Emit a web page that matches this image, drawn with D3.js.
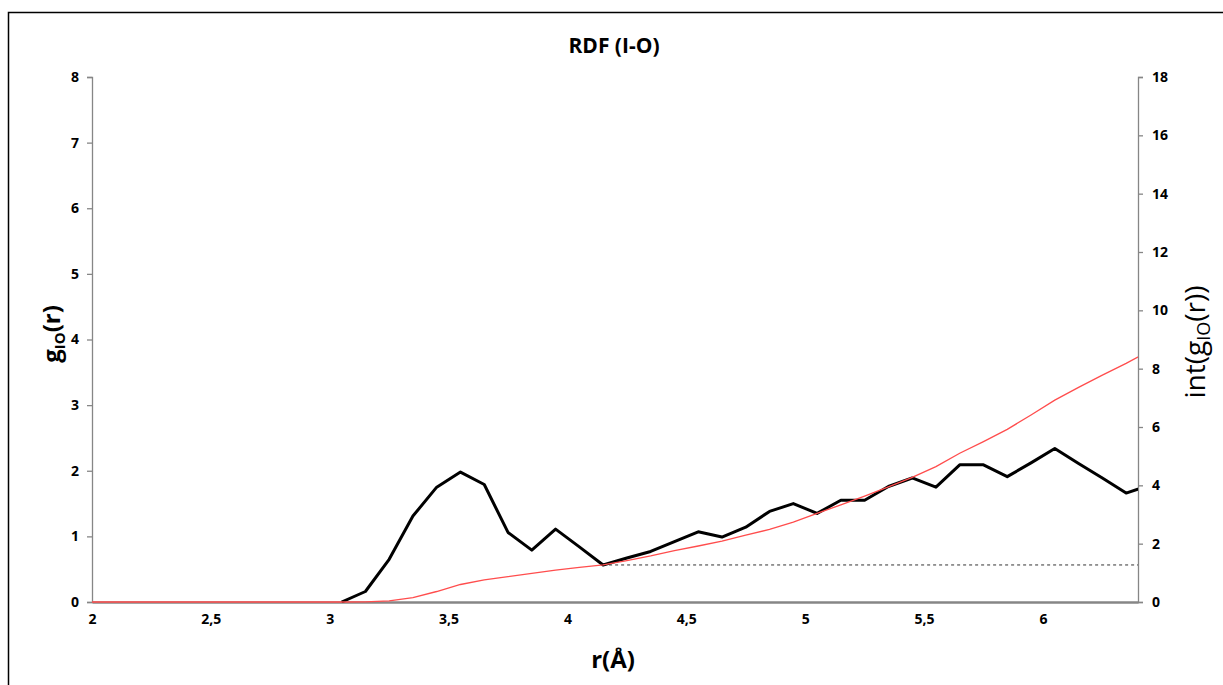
<!DOCTYPE html>
<html>
<head>
<meta charset="utf-8">
<script src="https://cdn.jsdelivr.net/npm/d3@7"></script>
<style>
  html, body { margin: 0; padding: 0; background: #fff; }
  svg { display: block; font-family: "Open Sans", "Liberation Sans", sans-serif; }
</style>
</head>
<body>
<svg id="chart" width="1223" height="685"></svg>
<script>
// ---- data ----
const rValues = [1.95, 2.05, 2.15, 2.25, 2.35, 2.45, 2.55, 2.65, 2.75, 2.85, 2.95,
  3.05, 3.15, 3.25, 3.35, 3.45, 3.55, 3.65, 3.75, 3.85, 3.95,
  4.05, 4.15, 4.25, 4.35, 4.45, 4.55, 4.65, 4.75, 4.85, 4.95,
  5.05, 5.15, 5.25, 5.35, 5.45, 5.55, 5.65, 5.75, 5.85, 5.95,
  6.05, 6.15, 6.25, 6.35, 6.45];
const gIO = [null, null, null, null, null, null, null, null, null, null, null,
  0, 0.16, 0.65, 1.31, 1.75, 1.98, 1.79, 1.06, 0.79, 1.11,
  0.84, 0.564, 0.67, 0.77, 0.92, 1.07, 0.99, 1.14, 1.38, 1.50,
  1.35, 1.55, 1.55, 1.76, 1.89, 1.75, 2.09, 2.09, 1.91, 2.12,
  2.34, 2.11, 1.89, 1.66, 1.78];
const intGIO = [0, 0, 0, 0, 0, 0, 0, 0, 0, 0, 0,
  0, 0.005, 0.04, 0.15, 0.36, 0.60, 0.76, 0.87, 0.98, 1.09,
  1.19, 1.27, 1.42, 1.58, 1.76, 1.92, 2.09, 2.29, 2.49, 2.74,
  3.04, 3.33, 3.63, 3.95, 4.27, 4.64, 5.10, 5.50, 5.92, 6.41,
  6.92, 7.36, 7.78, 8.18, 8.62];
const cnR = [4.15, 6.45];
const cnValue = [1.27, 1.27];

const xTicks = [2, 2.5, 3, 3.5, 4, 4.5, 5, 5.5, 6];
const yLeftTicks = [0, 1, 2, 3, 4, 5, 6, 7, 8];
const yRightTicks = [0, 2, 4, 6, 8, 10, 12, 14, 16, 18];
const xDomain = [2, 6.4];
const yLeftDomain = [0, 8];
const yRightDomain = [0, 18];

const title = "RDF (I-O)";

// ---- layout ----
const svg = d3.select("#chart");
const plot = { left: 92, right: 1138, top: 77, bottom: 602 };

const x = d3.scaleLinear().domain(xDomain).range([plot.left, plot.right]);
const yL = d3.scaleLinear().domain(yLeftDomain).range([plot.bottom, plot.top]);
const yR = d3.scaleLinear().domain(yRightDomain).range([plot.bottom, plot.top]);

const fmt = d => String(d).replace(".", ",");

// outer frame
svg.append("path")
  .attr("d", "M8.5,690 V12.5 H1230")
  .attr("fill", "none").attr("stroke", "#000").attr("stroke-width", 1.5);

// clip
svg.append("clipPath").attr("id", "clip").append("rect")
  .attr("x", plot.left).attr("y", plot.top - 5)
  .attr("width", plot.right - plot.left).attr("height", plot.bottom - plot.top + 6);

// left axis
const gl = svg.append("g").attr("transform", `translate(${plot.left},0)`)
  .call(d3.axisLeft(yL).tickValues(yLeftTicks).tickSize(5).tickPadding(8).tickFormat(fmt));
// right axis
const gr = svg.append("g").attr("transform", `translate(${plot.right},0)`)
  .call(d3.axisRight(yR).tickValues(yRightTicks).tickSize(5).tickPadding(9).tickFormat(fmt));
// x axis
const gx = svg.append("g").attr("transform", `translate(0,${plot.bottom})`)
  .call(d3.axisBottom(x).tickValues(xTicks).tickSize(0).tickPadding(12).tickFormat(fmt));

[gl, gr, gx].forEach(g => {
  g.selectAll(".domain").attr("stroke", "#868686").attr("stroke-width", 1.3);
  g.selectAll(".tick line").attr("stroke", "#868686").attr("stroke-width", 1.3);
  g.selectAll("text").attr("font-size", 14).attr("font-weight", 700)
    .attr("fill", "#000").attr("font-family", "'Open Sans', sans-serif");
});
gx.select(".domain").attr("stroke-width", 2.5);

const data = rValues.map((r, i) => ({ r, g: gIO[i], n: intGIO[i] }));
const clipG = svg.append("g").attr("clip-path", "url(#clip)");

// dashed coordination line
clipG.append("path")
  .datum(cnR.map((r, i) => ({ r, v: cnValue[i] })))
  .attr("d", d3.line().x(d => x(d.r)).y(d => yR(d.v)))
  .attr("fill", "none").attr("stroke", "#333").attr("stroke-width", 1)
  .attr("stroke-dasharray", "3,3");

// g(r) black
clipG.append("path")
  .datum(data.filter(d => d.g !== null))
  .attr("d", d3.line().x(d => x(d.r)).y(d => yL(d.g)))
  .attr("fill", "none").attr("stroke", "#000").attr("stroke-width", 3)
  .attr("stroke-linejoin", "round");

// int g(r) red
clipG.append("path")
  .datum(data)
  .attr("d", d3.line().x(d => x(d.r)).y(d => yR(d.n)))
  .attr("fill", "none").attr("stroke", "#ff4d4d").attr("stroke-width", 1.3);

// title
svg.append("text").attr("x", 614).attr("y", 53).attr("text-anchor", "middle")
  .attr("font-size", 21).attr("font-weight", 700).text(title);

// x title
const xt = svg.append("text").attr("x", 613).attr("y", 668).attr("text-anchor", "middle")
  .attr("font-size", 24).attr("font-weight", 700);
xt.append("tspan").text("r(Å)");

// left y title
const ylt = svg.append("text").attr("transform", "translate(60,334) rotate(-90)")
  .attr("text-anchor", "middle").attr("font-size", 24).attr("font-weight", 700);
ylt.append("tspan").text("g");
ylt.append("tspan").attr("font-size", 15).attr("dy", 5).text("IO");
ylt.append("tspan").attr("dy", -5).text("(r)");

// right y title
const yrt = svg.append("text").attr("transform", "translate(1205,342) rotate(-90)")
  .attr("text-anchor", "middle").attr("font-size", 28).attr("font-weight", 400);
yrt.append("tspan").text("int(g");
yrt.append("tspan").attr("font-size", 18).attr("dy", 5).text("IO");
yrt.append("tspan").attr("dy", -5).text("(r))");
</script>
</body>
</html>
